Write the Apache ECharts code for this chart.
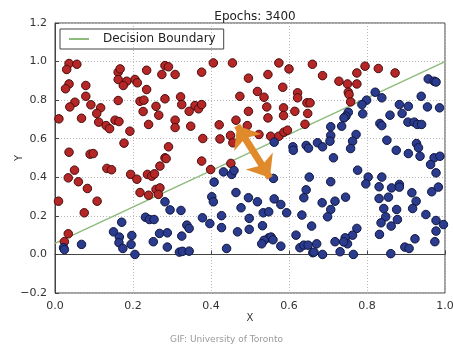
<!DOCTYPE html>
<html>
<head>
<meta charset="utf-8">
<script src="https://cdn.jsdelivr.net/npm/echarts@6/dist/echarts.min.js"></script>
<style>
  html, body { margin: 0; padding: 0; background: #fff; }
  #chart { width: 453px; height: 356px; }
</style>
</head>
<body>
<div id="chart"></div>
<script>
// class 1 (red, above the boundary)
const redPoints = [
  [0.036,0.99],[0.056,0.986],[0.030,0.959],[0.036,0.884],[0.027,0.859],[0.079,0.876],[0.079,0.820],[0.051,0.789],
  [0.038,0.765],[0.092,0.776],[0.117,0.760],[0.107,0.731],[0.010,0.703],[0.068,0.706],[0.112,0.686],[0.131,0.668],
  [0.140,0.652],[0.154,0.696],[0.164,0.689],[0.192,0.639],[0.177,0.577],[0.036,0.530],[0.090,0.520],[0.098,0.523],
  [0.162,0.945],[0.167,0.962],[0.162,0.907],[0.184,0.898],[0.175,0.876],[0.205,0.907],[0.211,0.890],[0.235,0.955],
  [0.235,0.855],[0.162,0.798],[0.218,0.794],[0.228,0.800],[0.226,0.741],[0.259,0.768],[0.266,0.722],[0.240,0.674],
  [0.282,0.979],[0.291,0.973],[0.274,0.933],[0.308,0.933],[0.282,0.807],[0.322,0.817],[0.325,0.777],[0.308,0.696],
  [0.308,0.658],[0.291,0.558],[0.282,0.501],
  [0.406,0.993],[0.455,0.993],[0.376,0.945],[0.574,0.993],[0.600,0.962],[0.660,0.986],[0.496,0.914],[0.546,0.933],
  [0.584,0.867],[0.519,0.845],[0.474,0.820],[0.536,0.815],[0.622,0.838],[0.622,0.812],[0.344,0.742],[0.359,0.772],
  [0.368,0.755],[0.376,0.777],[0.496,0.742],[0.543,0.765],[0.586,0.760],[0.615,0.742],[0.646,0.786],[0.654,0.786],
  [0.648,0.731],[0.546,0.708],[0.586,0.720],[0.464,0.696],[0.421,0.672],[0.348,0.665],[0.493,0.668],[0.641,0.675],
  [0.379,0.601],[0.423,0.599],[0.450,0.617],[0.456,0.579],[0.523,0.622],[0.553,0.613],[0.574,0.613],[0.587,0.634],
  [0.596,0.644],
  [0.686,0.927],[0.795,0.976],[0.829,0.964],[0.872,0.941],[0.774,0.941],[0.728,0.898],[0.750,0.884],[0.774,0.884],
  [0.752,0.841],[0.754,0.829],[0.758,0.791],
  [0.050,0.437],[0.034,0.397],[0.060,0.377],[0.083,0.342],[0.009,0.276],[0.108,0.276],[0.075,0.216],[0.034,0.107],
  [0.024,0.066],[0.133,0.446],[0.145,0.439],[0.194,0.415],[0.210,0.390],[0.237,0.415],[0.248,0.406],[0.255,0.418],
  [0.285,0.497],[0.269,0.458],[0.218,0.321],[0.240,0.307],[0.259,0.337],[0.269,0.345],[0.265,0.311],
  [0.376,0.484],[0.399,0.440],[0.451,0.472]
];

// class 0 (blue, below the boundary)
const bluePoints = [
  [0.562,0.582],[0.610,0.558],[0.611,0.540],[0.644,0.565],[0.650,0.551],
  [0.821,0.841],[0.838,0.812],[0.799,0.800],[0.787,0.777],[0.789,0.729],[0.752,0.737],[0.746,0.717],[0.741,0.708],
  [0.707,0.662],[0.735,0.665],[0.707,0.617],[0.705,0.587],[0.673,0.579],[0.686,0.558],[0.772,0.622],[0.763,0.587],
  [0.758,0.549],[0.957,0.910],[0.972,0.898],[0.977,0.894],[0.939,0.820],[0.883,0.777],[0.906,0.768],[0.955,0.765],
  [0.986,0.760],[0.859,0.722],[0.890,0.731],[0.833,0.679],[0.838,0.668],[0.905,0.686],[0.921,0.686],[0.929,0.674],
  [0.940,0.674],[0.851,0.592],[0.927,0.575],[0.932,0.553],[0.875,0.540],[0.906,0.523],[0.936,0.509],[0.972,0.501],
  [0.987,0.509],[0.714,0.501],
  [0.282,0.273],[0.295,0.231],[0.323,0.228],[0.232,0.193],[0.242,0.181],[0.254,0.181],[0.171,0.167],[0.150,0.117],
  [0.165,0.090],[0.197,0.098],[0.164,0.061],[0.174,0.031],[0.195,0.052],[0.205,0.000],[0.268,0.109],[0.288,0.112],
  [0.252,0.066],[0.288,0.038],[0.325,0.095],[0.319,0.012],[0.327,0.016],[0.068,0.052],[0.022,0.035],[0.024,0.025],
  [0.432,0.428],[0.453,0.415],[0.459,0.435],[0.408,0.375],[0.560,0.394],[0.652,0.401],[0.644,0.335],[0.638,0.294],
  [0.402,0.299],[0.406,0.273],[0.464,0.321],[0.496,0.294],[0.519,0.273],[0.562,0.288],[0.579,0.259],[0.477,0.242],
  [0.534,0.216],[0.548,0.221],[0.594,0.216],[0.633,0.204],[0.378,0.190],[0.427,0.201],[0.397,0.160],[0.498,0.187],
  [0.338,0.152],[0.344,0.135],[0.427,0.139],[0.498,0.130],[0.532,0.149],[0.468,0.117],[0.548,0.086],[0.554,0.090],
  [0.559,0.076],[0.536,0.073],[0.530,0.055],[0.440,0.031],[0.579,0.043],[0.618,0.100],[0.628,0.035],[0.638,0.048],
  [0.649,0.048],[0.661,0.009],[0.344,0.017],
  [0.776,0.437],[0.803,0.401],[0.838,0.401],[0.797,0.366],[0.831,0.351],[0.863,0.345],[0.883,0.363],[0.883,0.349],
  [0.915,0.320],[0.926,0.276],[0.966,0.325],[0.983,0.349],[0.977,0.423],[0.963,0.466],[0.707,0.377],[0.745,0.297],
  [0.685,0.268],[0.718,0.276],[0.707,0.233],[0.699,0.195],[0.831,0.290],[0.855,0.297],[0.843,0.238],[0.876,0.233],
  [0.917,0.238],[0.848,0.195],[0.878,0.181],[0.836,0.164],[0.862,0.147],[0.951,0.207],[0.977,0.176],[0.996,0.155],
  [0.977,0.121],[0.658,0.147],[0.774,0.135],[0.763,0.100],[0.744,0.086],[0.750,0.055],[0.740,0.065],[0.718,0.066],
  [0.671,0.055],[0.664,0.012],[0.686,0.000],[0.731,0.014],[0.765,0.000],[0.832,0.104],[0.861,0.004],[0.897,0.038],
  [0.908,0.031],[0.923,0.081],[0.974,0.066]
];

const boundary = [[0, 0.057], [1, 1.0]];
const arrowFrom = [0.467, 0.668];
const arrowTo = [0.551, 0.397];

const xTicks = { min: 0, max: 1, step: 0.2 };
const yTicks = { min: -0.2, max: 1.2, step: 0.2 };

const tickFmt = v => (Math.abs(v) < 1e-9 ? 0 : v).toFixed(1).replace('-', '\u2212');

const chart = echarts.init(document.getElementById('chart'));

const axisCommon = {
  type: 'value',
  axisLine: { show: true, lineStyle: { color: '#444', width: 1 } },
  axisTick: { show: true, inside: true, length: 4, lineStyle: { color: '#444' } },
  axisLabel: { color: '#333', fontSize: 11, fontFamily: 'DejaVu Sans', formatter: tickFmt },
  splitLine: { show: true, lineStyle: { color: '#bbb', type: [1, 2], width: 1 } },
  nameMoveOverlap: false,
  nameTextStyle: { color: '#333', fontSize: 10, fontFamily: 'DejaVu Sans' }
};

chart.setOption({
  backgroundColor: '#fff',
  animation: false,
  textStyle: { fontFamily: 'DejaVu Sans' },
  title: {
    text: 'Epochs: 3400',
    left: 250, top: 6, textAlign: 'center',
    textStyle: { fontSize: 12, fontWeight: 'normal', color: '#222' }
  },
  legend: {
    left: 60, top: 29,
    padding: [4, 8, 4, 8],
    borderColor: '#444', borderWidth: 1,
    itemWidth: 20, itemHeight: 2,
    textStyle: { fontSize: 12, color: '#222', padding: [0, 0, 0, 9] },
    data: ['Decision Boundary']
  },
  grid: {
    left: 55, right: 8, top: 23, bottom: 63,
    outerBoundsMode: 'none', containLabel: false,
    show: true, borderColor: '#444', borderWidth: 1
  },
  xAxis: Object.assign({}, axisCommon, {
    min: xTicks.min, max: xTicks.max, interval: xTicks.step,
    name: 'X', nameLocation: 'middle', nameGap: 20
  }),
  yAxis: Object.assign({}, axisCommon, {
    min: yTicks.min, max: yTicks.max, interval: yTicks.step,
    name: 'Y', nameLocation: 'middle', nameGap: 31, nameRotate: 90
  }),
  graphic: [{
    type: 'text', left: 'center', top: 335,
    style: { text: 'GIF: University of Toronto', fill: '#9a9a9a', fontSize: 9, fontFamily: 'DejaVu Sans' }
  }],
  series: [
    {
      name: 'Decision Boundary', type: 'line', data: boundary,
      symbol: 'none', z: 1,
      lineStyle: { color: '#8dbb7c', width: 1.5 },
      itemStyle: { color: '#8dbb7c' }
    },
    {
      name: 'red', type: 'scatter', data: redPoints, symbolSize: 8.5, z: 3,
      itemStyle: { color: '#b52626', borderColor: '#4a0d0d', borderWidth: 1, opacity: 1 }
    },
    {
      name: 'blue', type: 'scatter', data: bluePoints, symbolSize: 8.5, z: 3,
      itemStyle: { color: '#2b3c8e', borderColor: '#0f1640', borderWidth: 1, opacity: 1 },
      markLine: {
        silent: true, z: 5,
        symbol: ['arrow', 'arrow'], symbolSize: [24, 20],
        label: { show: false },
        lineStyle: { color: '#e08a2c', width: 7, type: 'solid' },
        data: [[{ coord: arrowFrom }, { coord: arrowTo }]]
      }
    }
  ]
});
</script>
</body>
</html>
